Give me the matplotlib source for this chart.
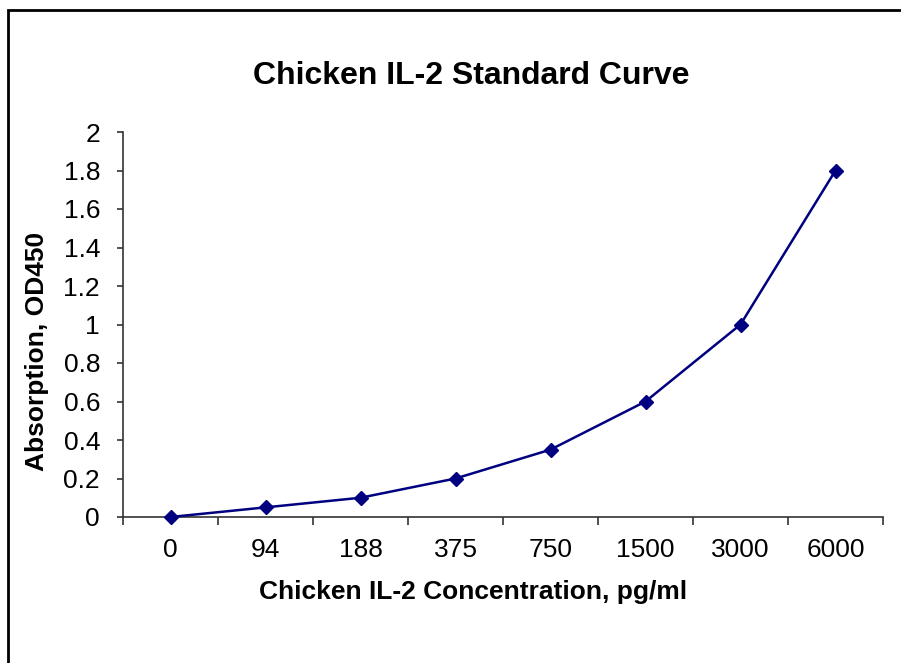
import matplotlib
matplotlib.use("Agg")
import matplotlib.pyplot as plt
from matplotlib.patches import Rectangle

plt.rcParams['font.family'] = ['Liberation Sans', 'DejaVu Sans']

concentrations = ['0', '94', '188', '375', '750', '1500', '3000', '6000']
od450 = [0.0, 0.05, 0.1, 0.2, 0.35, 0.6, 1.0, 1.8]
y_ticks = [0, 0.2, 0.4, 0.6, 0.8, 1, 1.2, 1.4, 1.6, 1.8, 2]

fig = plt.figure(figsize=(9.01, 6.63), dpi=100)
ax = fig.add_axes([123 / 901, 1 - 517 / 663, 760 / 901, 385 / 663])

x = range(len(concentrations))
ax.plot(x, od450, color='#000080', lw=1.8, marker='D', ms=7, clip_on=False, zorder=3)

ax.set_xlim(-0.5, len(concentrations) - 0.5)
ax.set_ylim(0, 2)
ax.set_yticks(y_ticks)
ax.set_yticklabels([f'{v:g}' for v in y_ticks])
ax.set_xticks(list(x))
ax.set_xticklabels(concentrations)
ax.set_xticks([i - 0.5 for i in range(len(concentrations) + 1)], minor=True)
ax.tick_params(axis='x', which='major', length=0, pad=15, labelsize=19)
ax.tick_params(axis='x', which='minor', length=6, width=1.2, color='#333333', direction='out')
ax.tick_params(axis='y', length=4.5, width=1.2, color='#333333', direction='out', labelsize=19, pad=12)

for side in ['top', 'right']:
    ax.spines[side].set_visible(False)
for side in ['left', 'bottom']:
    ax.spines[side].set_color('#333333')
    ax.spines[side].set_linewidth(1.2)

# labels placed in figure coords (the reference's x label is not centred on the axes)
fig.text(473 / 901, 1 - 592 / 663, 'Chicken IL-2 Concentration, pg/ml', fontsize=19,
         fontweight='bold', ha='center', va='center')
fig.text(37 / 901, 1 - 351 / 663, 'Absorption, OD450', fontsize=19, fontweight='bold',
         ha='center', va='center', rotation=90)
fig.text(471 / 901, 1 - 76 / 663, 'Chicken IL-2 Standard Curve', fontsize=23,
         fontweight='bold', ha='center', va='center')

fig.patches.append(Rectangle((8 / 901, -0.1), 1.1, 1 - 10 / 663 + 0.1, transform=fig.transFigure,
                             fill=False, edgecolor='black', lw=2))

fig.savefig('out.png', dpi=100)
